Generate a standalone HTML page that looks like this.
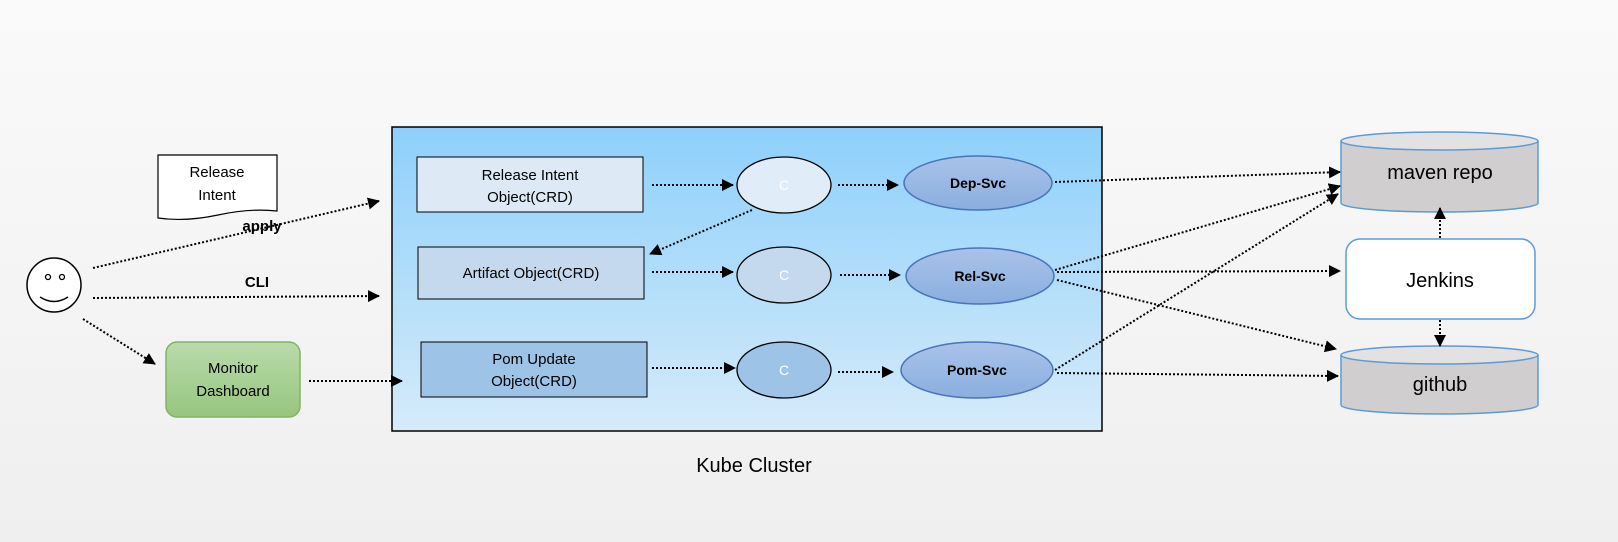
<!DOCTYPE html>
<html><head><meta charset="utf-8"><style>
html,body{margin:0;padding:0;width:1618px;height:542px;overflow:hidden;background:#f4f4f4}
text{font-family:"Liberation Sans",sans-serif}
</style></head><body>
<svg width="1618" height="542" viewBox="0 0 1618 542" xmlns="http://www.w3.org/2000/svg">
<defs>
<linearGradient id="bg" x1="0" y1="0" x2="0" y2="1"><stop offset="0" stop-color="#fafafa"/><stop offset="1" stop-color="#efefef"/></linearGradient>
<linearGradient id="kube" x1="0" y1="0" x2="0" y2="1"><stop offset="0" stop-color="#8dd0fb"/><stop offset="1" stop-color="#d6ebfa"/></linearGradient>
<linearGradient id="grn" x1="0" y1="0" x2="0" y2="1"><stop offset="0" stop-color="#b9dbab"/><stop offset="1" stop-color="#97c67f"/></linearGradient>
<linearGradient id="svc" x1="0" y1="0" x2="0" y2="1"><stop offset="0" stop-color="#a9c3ea"/><stop offset="1" stop-color="#8aaedf"/></linearGradient>
<marker id="a" markerWidth="12" markerHeight="12" refX="11" refY="6" orient="auto" markerUnits="userSpaceOnUse"><path d="M0,0 L12,6 L0,12 z" fill="#000"/></marker>
</defs>
<rect width="1618" height="542" fill="url(#bg)"/>
<rect x="392" y="127" width="710" height="304" fill="url(#kube)" stroke="#000" stroke-width="1.5"/>
<text x="754" y="472" font-size="20" text-anchor="middle">Kube Cluster</text>

<!-- smiley -->
<circle cx="54" cy="285" r="27" fill="#fff" stroke="#000" stroke-width="1.5"/>
<circle cx="48" cy="277" r="2.5" fill="none" stroke="#000" stroke-width="1.3"/>
<circle cx="62" cy="277" r="2.5" fill="none" stroke="#000" stroke-width="1.3"/>
<path d="M40 297 Q54 306 68 297" fill="none" stroke="#000" stroke-width="1.5"/>
<!-- doc -->
<path d="M158 155 H277 V211 Q250 208 218 215 Q185 222 158 218 Z" fill="#fff" stroke="#000" stroke-width="1.2"/>
<text x="217" y="177" font-size="15" text-anchor="middle">Release</text>
<text x="217" y="200" font-size="15" text-anchor="middle">Intent</text>

<g stroke="#000" stroke-width="2" stroke-dasharray="2,2" fill="none" marker-end="url(#a)">
<path d="M93 268 L379 201"/>
<path d="M93 298 L379 296"/>
<path d="M83 319 L155 364"/>
<path d="M309 381 L402 381"/>
</g>
<text x="262" y="231" font-size="15" font-weight="bold" text-anchor="middle">apply</text>
<text x="257" y="287" font-size="15" font-weight="bold" text-anchor="middle">CLI</text>

<rect x="166" y="342" width="134" height="75" rx="11" fill="url(#grn)" stroke="#82b366" stroke-width="1.5"/>
<text x="233" y="373" font-size="15" text-anchor="middle">Monitor</text>
<text x="233" y="396" font-size="15" text-anchor="middle">Dashboard</text>

<!-- object boxes -->
<rect x="417" y="157" width="226" height="55" fill="#ddeaf6" stroke="#000"/>
<text x="530" y="180" font-size="15" text-anchor="middle">Release Intent</text>
<text x="530" y="202" font-size="15" text-anchor="middle">Object(CRD)</text>
<rect x="418" y="247" width="226" height="52" fill="#c5d9ee" stroke="#000"/>
<text x="531" y="278" font-size="15" text-anchor="middle">Artifact Object(CRD)</text>
<rect x="421" y="342" width="226" height="55" fill="#9dc3e6" stroke="#000"/>
<text x="534" y="364" font-size="15" text-anchor="middle">Pom Update</text>
<text x="534" y="386" font-size="15" text-anchor="middle">Object(CRD)</text>

<!-- C ellipses -->
<ellipse cx="784" cy="185" rx="47" ry="28" fill="#e0ecf8" stroke="#000" stroke-width="1.3"/>
<ellipse cx="784" cy="275" rx="47" ry="28" fill="#c5d9ee" stroke="#000" stroke-width="1.3"/>
<ellipse cx="784" cy="370" rx="47" ry="28" fill="#9dc3e6" stroke="#000" stroke-width="1.3"/>
<text x="784" y="190" font-size="14" fill="#fff" text-anchor="middle">C</text>
<text x="784" y="280" font-size="14" fill="#fff" text-anchor="middle">C</text>
<text x="784" y="375" font-size="14" fill="#fff" text-anchor="middle">C</text>

<!-- svc ellipses -->
<ellipse cx="978" cy="183" rx="74" ry="27" fill="url(#svc)" stroke="#4a74b8" stroke-width="1.5"/>
<ellipse cx="980" cy="276" rx="74" ry="28" fill="url(#svc)" stroke="#4a74b8" stroke-width="1.5"/>
<ellipse cx="977" cy="370" rx="76" ry="28" fill="url(#svc)" stroke="#4a74b8" stroke-width="1.5"/>
<text x="978" y="188" font-size="14" font-weight="bold" text-anchor="middle">Dep-Svc</text>
<text x="980" y="281" font-size="14" font-weight="bold" text-anchor="middle">Rel-Svc</text>
<text x="977" y="375" font-size="14" font-weight="bold" text-anchor="middle">Pom-Svc</text>

<!-- cylinders -->
<path d="M1341 141 V203 A98.5 9 0 0 0 1538 203 V141" fill="#d0cece" stroke="#5b9bd5" stroke-width="1.5"/>
<ellipse cx="1439.5" cy="141" rx="98.5" ry="9" fill="#e2e2e2" stroke="#5b9bd5" stroke-width="1.5"/>
<text x="1440" y="179" font-size="20" text-anchor="middle">maven repo</text>
<path d="M1341 355 V405 A98.5 9 0 0 0 1538 405 V355" fill="#d0cece" stroke="#5b9bd5" stroke-width="1.5"/>
<ellipse cx="1439.5" cy="355" rx="98.5" ry="9" fill="#e2e2e2" stroke="#5b9bd5" stroke-width="1.5"/>
<text x="1440" y="391" font-size="20" text-anchor="middle">github</text>
<rect x="1346" y="239" width="189" height="80" rx="14" fill="#fff" stroke="#5b9bd5" stroke-width="1.5"/>
<text x="1440" y="287" font-size="20" text-anchor="middle">Jenkins</text>

<g stroke="#000" stroke-width="2" stroke-dasharray="2,2" fill="none" marker-end="url(#a)">
<path d="M652 185 L733 185"/>
<path d="M838 185 L898 185"/>
<path d="M752 210 L650 254"/>
<path d="M652 272 L733 272"/>
<path d="M840 275 L900 275"/>
<path d="M652 368 L735 368"/>
<path d="M838 372 L893 372"/>
<path d="M1055 182 L1340 172"/>
<path d="M1055 270 L1340 186"/>
<path d="M1057 272 L1340 271"/>
<path d="M1057 280 L1336 349"/>
<path d="M1055 370 L1338 194"/>
<path d="M1057 373 L1338 376"/>
<path d="M1440 238 L1440 208"/>
<path d="M1440 320 L1440 346"/>
</g>
</svg>
</body></html>
